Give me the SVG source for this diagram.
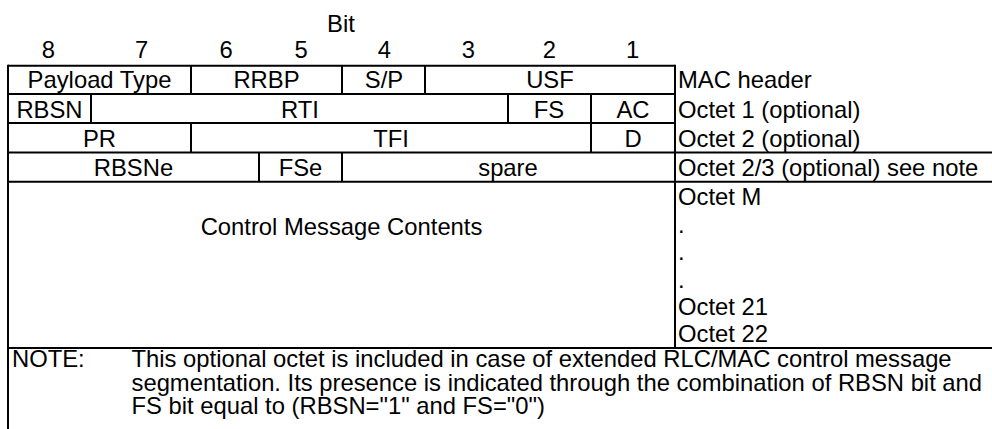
<svg xmlns="http://www.w3.org/2000/svg" width="992" height="429" viewBox="0 0 992 429">
<style>
text{font-family:"Liberation Sans",Arial,sans-serif;font-size:23.8px;fill:#000}
.c{text-anchor:middle}
.l{stroke:#000;stroke-width:2;fill:none}
</style>
<rect x="0" y="0" width="992" height="429" fill="#fff"/>
<g id="header">
<text class="c" x="341" y="31.7">Bit</text>
<text class="c" x="48.3" y="58.3">8</text>
<text class="c" x="141.7" y="58.3">7</text>
<text class="c" x="226" y="58.3">6</text>
<text class="c" x="301" y="58.3">5</text>
<text class="c" x="384.3" y="58.3">4</text>
<text class="c" x="468.3" y="58.3">3</text>
<text class="c" x="549.3" y="58.3">2</text>
<text class="c" x="632.7" y="58.3">1</text>
</g>
<g id="grid" class="l">
<path d="M8,65.7H675M8,94H675M8,123H675M8,152.5H992M8,181.7H992M8,348H992"/>
<path d="M8,64.7V429M675,64.7V348"/>
<path d="M191,65.7V94M342,65.7V94M425,65.7V94"/>
<path d="M91,94V123M508,94V123M591,94V123"/>
<path d="M191,123V152.5M591,123V152.5"/>
<path d="M259,152.5V181.7M342,152.5V181.7"/>
</g>
<g id="row-mac-header">
<text class="c" x="99.5" y="87.7">Payload Type</text>
<text class="c" x="266.5" y="87.7">RRBP</text>
<text class="c" x="384" y="87.7">S/P</text>
<text class="c" x="550" y="87.7">USF</text>
<text x="678" y="87.7">MAC header</text>
</g>
<g id="row-octet1">
<text class="c" x="49.5" y="118.3">RBSN</text>
<text class="c" x="300" y="118.3">RTI</text>
<text class="c" x="549" y="118.3">FS</text>
<text class="c" x="633" y="118.3">AC</text>
<text x="678" y="118.3">Octet 1 (optional)</text>
</g>
<g id="row-octet2">
<text class="c" x="99.5" y="146.7">PR</text>
<text class="c" x="391" y="146.7">TFI</text>
<text class="c" x="633" y="146.7">D</text>
<text x="678" y="146.7">Octet 2 (optional)</text>
</g>
<g id="row-octet23">
<text class="c" x="133.5" y="175.5">RBSNe</text>
<text class="c" x="300.5" y="175.5">FSe</text>
<text class="c" x="508" y="175.5">spare</text>
<text x="678" y="175.5">Octet 2/3 (optional) see note</text>
</g>
<g id="row-contents">
<text class="c" x="341.5" y="234.5">Control Message Contents</text>
<text x="678" y="204.5">Octet M</text>
<text x="678" y="232.5">.</text>
<text x="678" y="260">.</text>
<text x="678" y="287.5">.</text>
<text x="678" y="315">Octet 21</text>
<text x="678" y="342">Octet 22</text>
</g>
<g id="note">
<text x="12" y="367">NOTE:</text>
<text x="131.5" y="367">This optional octet is included in case of extended RLC/MAC control message</text>
<text x="131.5" y="390.5">segmentation. Its presence is indicated through the combination of RBSN bit and</text>
<text x="131.5" y="414">FS bit equal to (RBSN="1" and FS="0")</text>
</g>
</svg>
